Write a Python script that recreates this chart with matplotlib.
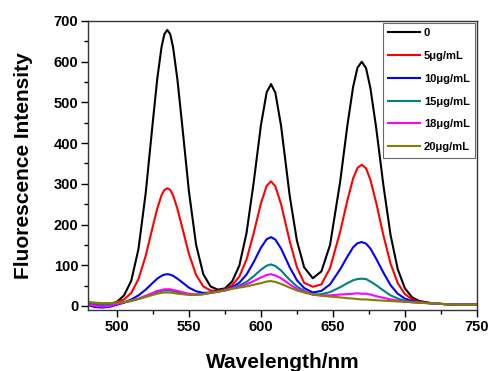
#Fluorescence spectra for different concentrations
import numpy as np
import matplotlib.pyplot as plt
from matplotlib.ticker import MultipleLocator

#Wavelength points (nm), denser near the peaks
wavelength = [480, 485, 490, 495, 500, 505, 510, 515, 520, 525, 528, 531, 533, 535, 537, 539, 542, 545,
              550, 555, 560, 565, 570, 575, 580, 585, 590, 595, 600, 604, 607, 610, 614, 620,
              625, 630, 636, 642, 648, 655, 660, 664, 667, 670, 673, 676, 680, 685, 690, 695,
              700, 705, 710, 720, 730, 740, 750]

#Intensities
c0 = [6, 4, 3, 4, 10, 26, 62, 140, 277, 454, 557, 636, 668, 678, 668, 636, 557, 456,
      282, 150, 78, 48, 40, 43, 60, 99, 179, 304, 444, 525, 545, 524, 442, 270,
      160, 95, 68, 85, 150, 305, 443, 538, 585, 600, 584, 535, 438, 297, 174, 90,
      43, 21, 12, 6, 4, 3, 3]
c5 = [6, 5, 5, 5, 9, 16, 32, 66, 123, 196, 239, 272, 285, 289, 285, 272, 239, 198,
      128, 76, 48, 38, 37, 41, 51, 72, 114, 179, 252, 295, 306, 294, 250, 159,
      95, 57, 47, 53, 93, 182, 259, 313, 339, 347, 338, 310, 254, 174, 104, 56,
      29, 16, 10, 6, 4, 3, 3]
c10 = [2, -3, -4, -2, 3, 8, 16, 26, 40, 57, 67, 74, 77, 78, 77, 74, 67, 59,
       45, 36, 32, 33, 36, 39, 46, 57, 77, 108, 143, 164, 169, 163, 141, 95,
       63, 44, 33, 37, 53, 90, 121, 144, 154, 157, 153, 141, 116, 82, 51, 30,
       18, 12, 9, 6, 4, 3, 3]
c15 = [8, 6, 4, 4, 6, 9, 12, 17, 23, 30, 34, 37, 38, 38, 38, 37, 34, 32,
       29, 28, 29, 32, 35, 38, 44, 50, 59, 73, 89, 99, 102, 98, 87, 64,
       48, 37, 28, 29, 34, 46, 56, 63, 66, 67, 66, 60, 51, 38, 26, 18,
       13, 10, 8, 6, 4, 3, 3]
c18 = [4, 0, -2, 0, 5, 9, 13, 18, 25, 32, 37, 39, 41, 41, 41, 39, 37, 34,
       30, 28, 29, 32, 35, 38, 43, 47, 53, 61, 70, 76, 78, 75, 68, 53,
       42, 35, 28, 26, 26, 28, 29, 30, 31, 30, 30, 28, 24, 20, 16, 13,
       11, 9, 8, 6, 4, 3, 3]
c20 = [10, 8, 7, 7, 8, 10, 13, 17, 22, 27, 30, 32, 33, 33, 33, 32, 30, 29,
       27, 27, 29, 32, 35, 38, 42, 45, 48, 52, 56, 60, 61, 59, 54, 45,
       38, 33, 28, 25, 23, 21, 19, 18, 17, 16, 16, 15, 14, 13, 12, 11,
       10, 9, 8, 6, 4, 3, 3]

series = [c0, c5, c10, c15, c18, c20]
labels = ['0', '5\u03bcg/mL', '10\u03bcg/mL', '15\u03bcg/mL', '18\u03bcg/mL', '20\u03bcg/mL']
colors = ['#000000', '#ff0000', '#0000ff', '#008080', '#ff00ff', '#808000']

plt.rcParams['font.family'] = ['Liberation Sans', 'DejaVu Sans']
plt.rcParams['font.weight'] = 'bold'

fig = plt.figure(figsize=(4.92, 3.71), dpi=100)
ax = fig.add_axes([0.179, 0.1644, 0.7905, 0.779])

for y, lab, col in zip(series, labels, colors):
    ax.plot(wavelength, y, color=col, lw=1.5, label=lab)

ax.set_xlim(480, 750)
ax.set_ylim(-10, 700)
ax.xaxis.set_major_locator(MultipleLocator(50))
ax.xaxis.set_minor_locator(MultipleLocator(25))
ax.yaxis.set_major_locator(MultipleLocator(100))
ax.yaxis.set_minor_locator(MultipleLocator(50))
ax.tick_params(which='major', direction='out', length=5, width=1, labelsize=10.5, pad=2)
ax.tick_params(which='minor', direction='out', length=3, width=1)
for lab in ax.get_xticklabels() + ax.get_yticklabels():
    lab.set_fontweight('bold')
for sp in ax.spines.values():
    sp.set_linewidth(1)
    sp.set_color('#333333')

ax.set_xlabel('Wavelength/nm', fontsize=15, fontweight='bold', labelpad=14)
ax.set_ylabel('Fluorescence Intensity', fontsize=15, fontweight='bold', labelpad=15)

leg = ax.legend(loc='upper right', handlelength=2.9, handletextpad=0.3,
                labelspacing=1.15, borderpad=0.5, borderaxespad=0.15, frameon=True,
                fancybox=False, prop={'weight': 'bold', 'size': 8})
leg.get_frame().set_edgecolor('#444444')
leg.get_frame().set_linewidth(0.8)

fig.savefig('out.png', dpi=100)
